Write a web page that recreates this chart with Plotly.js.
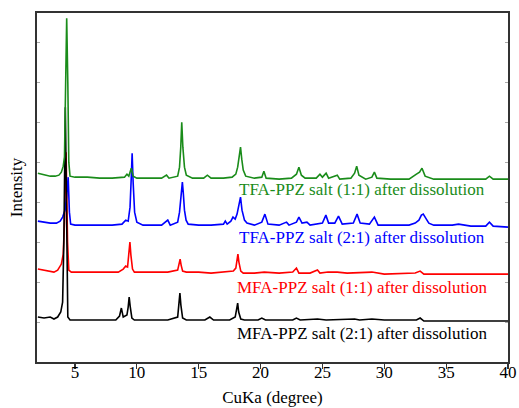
<!DOCTYPE html>
<html>
<head>
<meta charset="utf-8">
<script src="https://cdn.plot.ly/plotly-3.0.1.min.js"></script>
<style>html,body{margin:0;padding:0;background:#fff;}#chart{width:519px;height:408px;}</style>
</head>
<body>
<div id="chart"></div>
<script>
// 2-theta (degree) and stacked intensity (arbitrary units)
const blackX = [2.0,2.5,3.0,3.3,3.6,3.85,4.0,4.1,4.22,4.32,4.42,4.6,5.5,7,8.3,8.6,8.75,8.9,9.2,9.3,9.38,9.46,9.6,9.8,11,12.5,13.3,13.4,13.48,13.56,13.7,14,15.5,15.9,16.2,17.5,17.95,18.08,18.15,18.23,18.4,18.7,19.8,20.1,20.4,22.6,22.9,23.2,24.6,25.3,27.6,28,29.0,30,32.6,32.9,33.2,36,40];
const blackY = [45,44,45,43,45,50,60,120,255,110,45,42,42,42,42,46,54,45,47,55,65,56,44,42,42,42,45,58,69,57,44,42,42,45,42,42,45,54,59,50,43,42,42,44,42,42,44,42,43,42,43,42,43,42,42,44,41,41,41];

const redX = [2.0,2.5,3.0,3.3,3.6,3.9,4.05,4.15,4.28,4.4,4.5,4.7,5.5,7,8.5,8.9,9.1,9.25,9.35,9.44,9.52,9.65,9.8,11,12.5,13.3,13.42,13.5,13.58,13.7,14,15,16,17,17.8,18.0,18.1,18.17,18.25,18.4,18.6,19.5,20.3,21.5,22.6,22.9,23.1,24.0,24.6,24.8,25.45,26.2,27,29.0,30,32.5,32.9,33.2,36,38,40];
const redY = [93,92,91,90,92,98,108,140,210,120,92,90,90,90,90,93,96,95,108,120,107,93,90,90,90,92,98,103,97,91,90,90,89,90,91,94,103,108,100,91,89,89,90,89,90,94,89,89,92,89,90,90,89,90,88,89,91,88,88,88,88];

const blueX = [2.0,2.5,3.0,3.5,3.8,4.0,4.2,4.32,4.45,4.55,4.65,5,6,7,8,8.8,9.1,9.3,9.45,9.55,9.62,9.7,9.82,10.0,10.5,12.0,12.5,12.7,13.3,13.45,13.58,13.68,13.75,13.85,13.98,14.15,15,16,17.0,17.15,17.3,17.6,17.77,17.95,18.1,18.25,18.38,18.5,18.7,18.9,19.5,20.1,20.35,20.6,21.5,22.1,22.3,22.9,23.1,23.35,23.75,24.0,25.0,25.28,25.5,26.0,26.3,26.6,27.5,27.8,28.05,28.8,29.2,29.5,30.5,32.0,32.5,32.8,33.0,33.15,33.35,33.6,34.0,35.5,36.0,37,38.2,38.5,38.8,40];
const blueY = [141,140,139,139,141,145,152,165,185,150,138,137,137,137,137,138,142,141,155,185,209,180,150,140,137,137,142,137,140,150,170,180,170,152,142,138,137,137,138,141,138,141,145,143,148,156,165,152,142,139,137,140,148,138,137,140,137,140,145,139,140,137,139,147,139,139,146,138,139,148,139,138,145,137,137,137,139,142,147,148,144,139,137,137,138,136,136,140,136,135];

const greenX = [2.0,2.3,2.6,3.0,3.4,3.7,3.9,4.05,4.15,4.25,4.33,4.42,4.5,4.6,5.0,6,7,8,9.0,9.2,9.35,9.55,9.7,10,11,12.0,12.4,12.6,13.3,13.45,13.55,13.63,13.72,13.85,14.0,14.5,15.4,15.7,16,17,17.7,18.0,18.15,18.28,18.38,18.48,18.6,18.8,19.5,20.1,20.27,20.45,21.5,22.5,22.9,23.1,23.3,23.6,24.5,24.8,25.0,25.3,25.5,26.2,26.4,27.3,27.6,27.77,27.95,28.5,29.0,29.2,29.4,30.5,32.0,32.6,32.85,33.05,33.3,34,36,38.2,38.5,38.8,40];
const greenY = [189,188,187,186,186,187,190,196,205,290,344,280,200,186,185,185,184,184,185,188,186,194,186,184,184,184,187,184,186,195,215,240,215,195,187,184,184,187,184,184,185,188,195,205,215,203,192,186,184,185,191,184,183,184,188,195,187,184,184,188,185,189,184,187,183,184,189,196,187,183,185,190,184,183,183,188,190,194,186,183,183,183,186,183,183];

const labels = ["MFA-PPZ salt (2:1) after dissolution","MFA-PPZ salt (1:1) after dissolution","TFA-PPZ salt (2:1) after dissolution","TFA-PPZ salt (1:1) after dissolution"];
const labelY = [29, 75, 125, 173];
const colors = ["#000000","#ff0000","#0000ff","#1a8c1a"];
const xTicks = [5,10,15,20,25,30,35,40];

const serif = "'Liberation Serif', 'Times New Roman', serif";
const series = [
  {x: redX, y: redY, c: colors[1]},
  {x: blueX, y: blueY, c: colors[2]},
  {x: blackX, y: blackY, c: colors[0]},
  {x: greenX, y: greenY, c: colors[3]}
];
const data = series.map(s => ({x: s.x, y: s.y, type: 'scatter', mode: 'lines', line: {color: s.c, width: 1.6}, hoverinfo: 'skip'}));

const annotations = labels.map((t, i) => ({
  x: 28.2, y: labelY[i], xref: 'x', yref: 'y', text: t, showarrow: false,
  xanchor: 'center', yanchor: 'middle', font: {family: serif, size: 17, color: colors[i]}
}));

const layout = {
  width: 519, height: 408,
  margin: {l: 37, r: 11, t: 13, b: 46},
  paper_bgcolor: '#fff', plot_bgcolor: '#fff',
  showlegend: false,
  font: {family: serif, size: 17, color: '#000'},
  xaxis: {
    range: [1.93, 40], tickvals: xTicks, ticktext: xTicks.map(String),
    ticks: 'outside', ticklen: 5, tickwidth: 1.2, tickcolor: '#333',
    ticklabelstandoff: -11,
    showline: true, linecolor: '#333', linewidth: 1.6, mirror: true,
    showgrid: false, zeroline: false,
    tickfont: {family: serif, size: 17, color: '#000'},
    title: {text: 'CuKa (degree)', font: {family: serif, size: 17, color: '#000'}, standoff: 10}
  },
  xaxis2: {
    overlaying: 'x', anchor: 'y', side: 'top', range: [1.93, 40],
    tick0: 0, dtick: 2.5, ticks: 'inside', ticklen: 3, tickcolor: '#aaa',
    showticklabels: false, showgrid: false, zeroline: false, showline: false
  },
  yaxis: {
    range: [0, 349.3], tick0: 0, dtick: 40, ticks: 'inside', ticklen: 3, tickcolor: '#aaa',
    showticklabels: false, showline: true, linecolor: '#333', linewidth: 1.6, mirror: 'ticks',
    showgrid: false, zeroline: false,
    title: {text: 'Intensity', font: {family: serif, size: 17, color: '#000'}, standoff: 8}
  },
  annotations: annotations
};

Plotly.newPlot('chart', data, layout, {staticPlot: true, displayModeBar: false});
</script>
</body>
</html>
